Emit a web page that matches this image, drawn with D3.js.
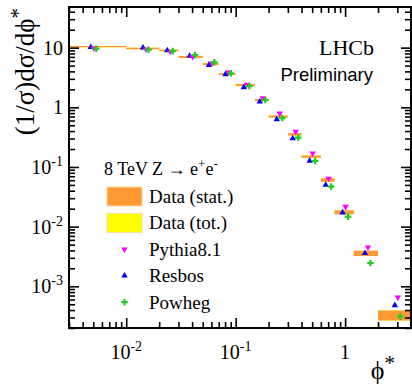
<!DOCTYPE html>
<html>
<head>
<meta charset="utf-8">
<script src="https://cdn.jsdelivr.net/npm/d3@7.9.0/dist/d3.min.js"></script>
<style>
  html, body { margin: 0; padding: 0; background: #fff; }
  svg { display: block; }
  .serif { font-family: "Liberation Serif", "DejaVu Serif", serif; }
  .sans { font-family: "Liberation Sans", Arial, sans-serif; }
</style>
</head>
<body>
<svg id="chart" width="412" height="384"></svg>
<script>
const binEdges = [0, 0.01, 0.02, 0.03, 0.05, 0.07, 0.1, 0.15, 0.2, 0.3, 0.4, 0.6, 0.8, 1.2, 2, 4];
const binCenters = [0.005, 0.015, 0.025, 0.04, 0.06, 0.085, 0.125, 0.175, 0.25, 0.35, 0.5, 0.7, 1.0, 1.6, 3.0];
const dataValues = [10.4, 9.7, 9.0, 7.0, 5.3, 3.6, 2.36, 1.32, 0.70, 0.353, 0.149, 0.0605, 0.0174, 0.00358, 0.00033];
const statErr = [0.025, 0.03, 0.03, 0.035, 0.035, 0.035, 0.04, 0.04, 0.04, 0.045, 0.045, 0.065, 0.075, 0.1, 0.19];
const totErr = [0.03, 0.035, 0.035, 0.04, 0.04, 0.04, 0.045, 0.045, 0.045, 0.05, 0.05, 0.07, 0.08, 0.105, 0.2];
const pythia = [9.73, 9.38, 8.6, 7.05, 5.45, 3.86, 2.39, 1.43, 0.79, 0.39, 0.169, 0.064, 0.0216, 0.0045, 0.00065];
const resbos = [10.2, 9.98, 9.0, 7.24, 5.11, 3.57, 2.16, 1.24, 0.63, 0.30, 0.127, 0.050, 0.0172, 0.00358, 0.00048];
const powheg = [9.6, 9.25, 8.75, 7.5, 5.67, 3.71, 2.27, 1.33, 0.66, 0.31, 0.126, 0.047, 0.0147, 0.00246, 0.00031];

const xTicks = [0.01, 0.1, 1];
const xTickLabels = [["10", "-2"], ["10", "-1"], ["1", ""]];
const yTicks = [10, 1, 0.1, 0.01, 0.001];
const yTickLabels = [["10", ""], ["1", ""], ["10", "-1"], ["10", "-2"], ["10", "-3"]];

const colors = {
  stat: "#ff9933",
  tot: "#ffff00",
  pythia: "#ff00ff",
  resbos: "#0000ff",
  powheg: "#22cc22",
};

const svg = d3.select("#chart");
const frame = { left: 69, right: 411, top: 7, bottom: 328 };

const x = d3.scaleLog().domain([0.003, 4]).range([frame.left, frame.right]);
const y = d3.scaleLog().domain([2e-4, 48]).range([frame.bottom, frame.top]);

function minorTicks(scale) {
  const [a, b] = scale.domain();
  const out = [];
  for (let e = Math.floor(Math.log10(a)); e <= Math.ceil(Math.log10(b)); e++) {
    for (let m = 2; m <= 9; m++) {
      const v = m * Math.pow(10, e);
      if (v >= a && v <= b) out.push(v);
    }
  }
  return out;
}

svg.append("clipPath").attr("id", "clip")
  .append("rect").attr("x", frame.left).attr("y", frame.top)
  .attr("width", frame.right - frame.left).attr("height", frame.bottom - frame.top);

const plot = svg.append("g").attr("clip-path", "url(#clip)");

// data bands: total first, stat on top
const bins = binCenters.map((c, i) => ({
  lo: Math.max(binEdges[i], 0.001),
  hi: binEdges[i + 1],
  v: dataValues[i],
  stat: statErr[i],
  tot: totErr[i],
}));

plot.selectAll("rect.tot").data(bins).join("rect")
  .attr("class", "tot")
  .attr("x", (d) => x(d.lo))
  .attr("width", (d) => x(d.hi) - x(d.lo))
  .attr("y", (d) => y(d.v * (1 + d.tot)))
  .attr("height", (d) => y(d.v * (1 - d.tot)) - y(d.v * (1 + d.tot)))
  .attr("fill", colors.tot)
  .attr("opacity", 0.6);

plot.selectAll("rect.stat").data(bins).join("rect")
  .attr("class", "stat")
  .attr("x", (d) => x(d.lo))
  .attr("width", (d) => x(d.hi) - x(d.lo))
  .attr("y", (d) => y(d.v * (1 + d.stat)))
  .attr("height", (d) => y(d.v * (1 - d.stat)) - y(d.v * (1 + d.stat)))
  .attr("fill", colors.stat);

// model markers
const triUp = d3.symbol().type(d3.symbolTriangle).size(18);
const cross = d3.symbol().type(d3.symbolCross).size(24);

const series = [
  { values: resbos, color: colors.resbos, path: triUp(), rot: 0, dx: -2.5 },
  { values: pythia, color: colors.pythia, path: triUp(), rot: 180, dx: 0.5 },
  { values: powheg, color: colors.powheg, path: cross(), rot: 0, dx: 3 },
];

series.forEach((s) => {
  plot.append("g").selectAll("path").data(s.values).join("path")
    .attr("d", s.path)
    .attr("fill", s.color)
    .attr("transform", (d, i) =>
      `translate(${x(binCenters[i]) + s.dx},${y(d)}) rotate(${s.rot})`);
});

// frame and ticks on all four sides
function addAxis(axis, tx, ty, values, len) {
  const g = svg.append("g").attr("transform", `translate(${tx},${ty})`)
    .call(axis.tickSize(-len).tickFormat("").tickValues(values));
  g.select(".domain").remove();
  g.selectAll("line").attr("stroke", "#000").attr("stroke-width", 1.6);
}

addAxis(d3.axisBottom(x), 0, frame.bottom, xTicks, 10);
addAxis(d3.axisBottom(x), 0, frame.bottom, minorTicks(x), 6);
addAxis(d3.axisTop(x), 0, frame.top, xTicks, 10);
addAxis(d3.axisTop(x), 0, frame.top, minorTicks(x), 6);
addAxis(d3.axisLeft(y), frame.left, 0, yTicks, 10);
addAxis(d3.axisLeft(y), frame.left, 0, minorTicks(y), 6);
addAxis(d3.axisRight(y), frame.right, 0, yTicks, 10);
addAxis(d3.axisRight(y), frame.right, 0, minorTicks(y), 6);

svg.append("rect")
  .attr("x", frame.left).attr("y", frame.top)
  .attr("width", frame.right - frame.left).attr("height", frame.bottom - frame.top)
  .attr("fill", "none").attr("stroke", "#000").attr("stroke-width", 2);

// tick labels
function powLabel(sel, base, exp) {
  sel.append("tspan").text(base);
  if (exp) {
    sel.append("tspan").attr("dy", -8).attr("font-size", 14).text(exp);
  }
}

xTicks.forEach((v, i) => {
  const t = svg.append("text").attr("class", "serif")
    .attr("x", x(v)).attr("y", 359)
    .attr("text-anchor", "middle").attr("font-size", 20);
  powLabel(t, xTickLabels[i][0], xTickLabels[i][1]);
});

yTicks.forEach((v, i) => {
  const t = svg.append("text").attr("class", "serif")
    .attr("x", 63).attr("y", y(v) + 7)
    .attr("text-anchor", "end").attr("font-size", 20);
  powLabel(t, yTickLabels[i][0], yTickLabels[i][1]);
});

// axis titles
const xTitle = svg.append("text").attr("class", "serif")
  .attr("x", 395).attr("y", 379).attr("text-anchor", "end").attr("font-size", 26);
xTitle.append("tspan").text("\u03D5");
xTitle.append("tspan").attr("dy", -9).attr("font-size", 21).text("*");

const yTitle = svg.append("text").attr("class", "serif")
  .attr("transform", "translate(34,8) rotate(-90)")
  .attr("text-anchor", "end").attr("font-size", 27);
yTitle.append("tspan").text("(1/σ)dσ/d\u03D5");
yTitle.append("tspan").attr("dy", -9).attr("font-size", 21).text("*");

// LHCb label
svg.append("text").attr("class", "serif")
  .attr("x", 374).attr("y", 55).attr("text-anchor", "end")
  .attr("font-size", 22).text("LHCb");
svg.append("text").attr("class", "sans")
  .attr("x", 373).attr("y", 81).attr("text-anchor", "end")
  .attr("font-size", 18.5).text("Preliminary");

// legend
const legend = svg.append("g");
const head = legend.append("text").attr("class", "serif")
  .attr("x", 104).attr("y", 175).attr("font-size", 18);
head.append("tspan").text("8 TeV Z → e");
head.append("tspan").attr("dy", -7).attr("font-size", 13).text("+");
head.append("tspan").attr("dy", 7).text("e");
head.append("tspan").attr("dy", -7).attr("font-size", 13).text("-");

const legendRows = [
  { label: "Data (stat.)", kind: "box", color: colors.stat },
  { label: "Data (tot.)", kind: "box", color: colors.tot },
  { label: "Pythia8.1", kind: "marker", color: colors.pythia, path: triUp(), rot: 180 },
  { label: "Resbos", kind: "marker", color: colors.resbos, path: triUp(), rot: 0 },
  { label: "Powheg", kind: "marker", color: colors.powheg, path: cross(), rot: 0 },
];

legendRows.forEach((r, i) => {
  const cy = 196.5 + i * 26.4;
  if (r.kind === "box") {
    legend.append("rect")
      .attr("x", 107).attr("y", cy - 9.5).attr("width", 35).attr("height", 19)
      .attr("fill", r.color).attr("stroke", "#ffd9a0").attr("stroke-width", 1);
  } else {
    legend.append("path").attr("d", r.path).attr("fill", r.color)
      .attr("transform", `translate(124.5,${cy}) rotate(${r.rot})`);
  }
  legend.append("text").attr("class", "serif")
    .attr("x", 149).attr("y", cy + 6.5).attr("font-size", 19).text(r.label);
});
</script>
</body>
</html>
